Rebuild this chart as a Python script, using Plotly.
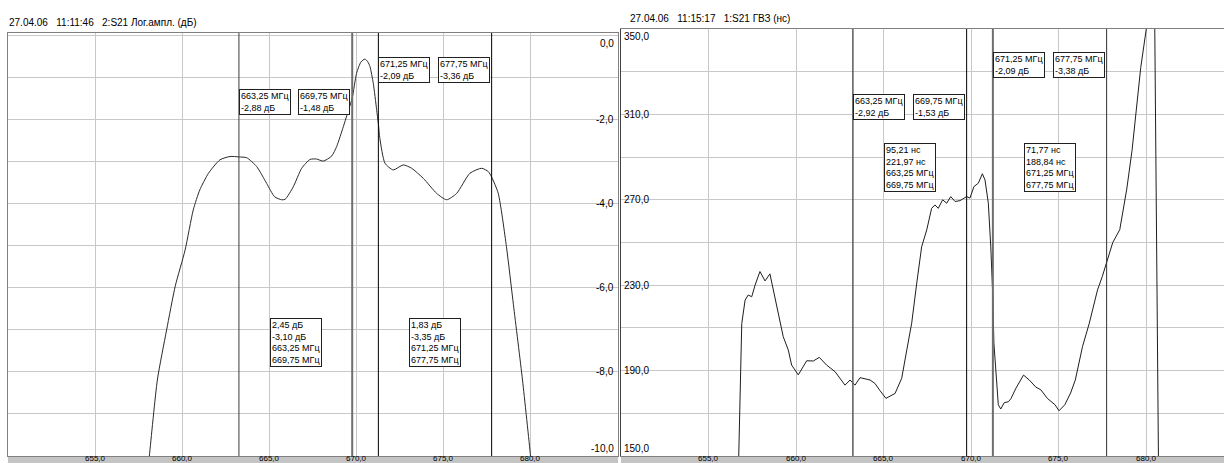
import plotly.graph_objects as go

# ---- S21 log amplitude, dB (channel 2) ----
amp_freq = [657.9, 658.11, 658.57, 659.1, 659.6, 660.16, 660.63, 661.0, 661.5, 662.16,
            662.74, 663.25, 663.7, 664.27, 664.84, 665.3, 665.7, 665.9, 666.37, 666.85,
            667.33, 667.7, 668.09, 668.57, 668.86, 669.24, 669.55, 669.75, 670.0, 670.25,
            670.48, 670.65, 670.77, 670.96, 671.15, 671.25, 671.34, 671.63, 672.1, 672.68,
            673.16, 673.83, 674.6, 675.17, 675.74, 676.5, 677.18, 677.56, 677.75, 678.13,
            678.6, 679.0, 679.52, 679.98, 680.1]
amp_db = [-10.8, -10.0, -8.19, -7.0, -5.95, -5.10, -4.14, -3.67, -3.27, -2.95,
          -2.87, -2.88, -2.90, -3.11, -3.51, -3.83, -3.90, -3.89, -3.59, -3.15,
          -2.94, -2.93, -2.98, -2.86, -2.63, -2.16, -1.75, -1.48, -0.89, -0.62,
          -0.55, -0.62, -0.73, -1.13, -1.75, -2.09, -2.45, -3.03, -3.19, -3.07,
          -3.15, -3.39, -3.75, -3.90, -3.75, -3.27, -3.15, -3.23, -3.36, -3.75,
          -5.02, -6.4, -8.19, -10.0, -10.6]

# ---- S21 group delay, ns (channel 1) ----
gd_freq = [656.7, 656.8, 656.9, 657.09, 657.27, 657.47, 657.66, 657.94, 658.23, 658.51,
           658.8, 658.99, 659.27, 659.56, 659.75, 660.13, 660.33, 660.61, 660.99, 661.33,
           661.75, 662.23, 662.8, 663.09, 663.37, 663.66, 664.23, 664.51, 664.8, 665.14,
           665.66, 666.04, 666.33, 666.61, 666.9, 667.18, 667.47, 667.75, 667.94, 668.13,
           668.38, 668.61, 668.84, 669.09, 669.37, 669.75, 669.94, 670.17, 670.42, 670.65,
           670.8, 670.99, 671.13, 671.24, 671.31, 671.47, 671.56, 671.7, 671.9, 672.14,
           672.29, 672.57, 673.0, 673.33, 673.7, 673.99, 674.36, 674.8, 675.03, 675.36,
           675.69, 675.96, 676.37, 676.76, 677.04, 677.23, 677.5, 677.75, 678.1, 678.5,
           678.9, 679.2, 679.5, 679.7, 680.05, 680.3, 680.5, 680.55, 680.65, 680.72]
gd_ns = [140, 177, 212, 223, 225.4, 224.6, 230, 236.4, 232, 235.3,
         224.6, 216.8, 205.9, 199.6, 192.6, 188, 191, 194.6, 194.5, 196.2,
         192.6, 189.5, 183.2, 185.6, 183.2, 186.7, 185.6, 184, 180.6, 177,
         179.3, 186.4, 199.6, 212.2, 231, 248, 255.9, 266, 267.6, 266,
         270, 268.4, 271.5, 269.2, 269.6, 271.5, 270.8, 276.2, 277.8, 282.2,
         279.3, 268.4, 248, 226.2, 202.8, 185.6, 174, 172, 175, 175.4,
         177, 181.8, 187.9, 185.6, 182.3, 181, 177, 174, 171.2, 174,
         179.5, 185.6, 201.2, 212.2, 221.6, 227.8, 234, 241, 250, 256,
         275, 293, 317, 332, 352, 365, 352, 300, 200, 140]

# ---- markers ----
marker_freq = [663.25, 669.75, 671.25, 677.75]
amp_marker_db = ["-2,88", "-1,48", "-2,09", "-3,36"]
gd_marker_db = ["-2,92", "-1,53", "-2,09", "-3,38"]
amp_stats = [["2,45 дБ", "-3,10 дБ"], ["1,83 дБ", "-3,35 дБ"]]
gd_stats = [["95,21 нс", "221,97 нс"], ["71,77 нс", "188,84 нс"]]

x_ticks = [655, 660, 665, 670, 675, 680]
amp_labels = [0, -2, -4, -6, -8, -10]
gd_labels = [350, 310, 270, 230, 190, 150]

amp_title = "27.04.06\u00a0\u00a0\u00a011:11:46\u00a0\u00a0\u00a02:S21 Лог.ампл. (дБ)"
gd_title = "27.04.06\u00a0\u00a0\u00a011:15:17\u00a0\u00a0\u00a01:S21 ГВЗ (нс)"

W, H = 1224, 463
FONT = "Liberation Sans"


def fx(px):
    return px / W


def fy(py):
    return 1 - py / H


def fmt(v):
    return f"{v:.1f}".replace(".", ",")


def mhz(f):
    return f"{f:.2f}".replace(".", ",") + " МГц"


fig = go.Figure()
fig.add_trace(go.Scatter(x=amp_freq, y=amp_db, xaxis="x", yaxis="y", mode="lines",
                         line=dict(color="#2a2a2a", width=1, shape="spline", smoothing=0.6),
                         hoverinfo="skip"))
fig.add_trace(go.Scatter(x=gd_freq, y=gd_ns, xaxis="x2", yaxis="y2", mode="lines",
                         line=dict(color="#1e1e1e", width=1), hoverinfo="skip"))

grid = "#c8c8c8"
frame = "#808080"
common_x = dict(tickvals=x_ticks, showticklabels=False, showgrid=True,
                gridcolor=grid, gridwidth=1, zeroline=False, ticks="", showline=True,
                linecolor=frame, linewidth=1, automargin=False, fixedrange=True)
common_y = dict(showticklabels=False, showgrid=True, gridcolor=grid, zeroline=False,
                showline=True, ticks="", automargin=False, fixedrange=True)

fig.update_layout(
    width=W, height=H, margin=dict(l=0, r=0, t=0, b=0, autoexpand=False),
    paper_bgcolor="white", plot_bgcolor="white", showlegend=False,
    xaxis=dict(domain=[fx(8), fx(618)], range=[650, 685], anchor="y", mirror=True, **common_x),
    yaxis=dict(domain=[fy(456), fy(33)], range=[-10, 0.07], anchor="x", tick0=0, dtick=1,
               linecolor=frame, mirror=True, **common_y),
    xaxis2=dict(domain=[fx(621), 1], range=[650, 650 + 603 / 17.5], anchor="y2", mirror=True,
                **common_x),
    yaxis2=dict(domain=[fy(456), fy(29)], range=[150, 350], anchor="x2", tick0=150, dtick=20,
                linecolor="#404040", **common_y),
)

shapes = []
# grey strip under each panel holding the frequency scale
for x0, x1 in [(8, 618), (621, W)]:
    shapes.append(dict(type="rect", xref="paper", yref="paper", x0=fx(x0), x1=fx(x1),
                       y0=0, y1=fy(456), fillcolor="#c4c4c4", line=dict(width=0), layer="below"))

amp_marker_style = [("#3c3c3c", 1), ("#6e6e6e", 2), ("#000000", 1), ("#000000", 1)]
gd_marker_style = [("#5a5a5a", 1.5), ("#000000", 1), ("#6e6e6e", 2), ("#303030", 1)]
for f, (c, w) in zip(marker_freq, amp_marker_style):
    shapes.append(dict(type="line", xref="x", yref="y domain", x0=f, x1=f, y0=0, y1=1,
                       line=dict(color=c, width=w)))
for f, (c, w) in zip(marker_freq, gd_marker_style):
    shapes.append(dict(type="line", xref="x2", yref="y2 domain", x0=f, x1=f, y0=0, y1=1,
                       line=dict(color=c, width=w)))
fig.update_layout(shapes=shapes)

ann = []
box = dict(bgcolor="white", bordercolor="#202020", borderwidth=1, borderpad=1,
           align="left", showarrow=False, font=dict(family=FONT, size=9, color="#000"))

# titles
ann.append(dict(text=amp_title, xref="paper", yref="paper", x=fx(7), y=fy(23), xanchor="left",
                yanchor="middle", showarrow=False, font=dict(family=FONT, size=10, color="#000")))
ann.append(dict(text=gd_title, xref="paper", yref="paper", x=fx(628), y=fy(18), xanchor="left",
                yanchor="middle", showarrow=False, font=dict(family=FONT, size=10, color="#000")))

# frequency scale in the grey strip
for xr in ["x", "x2"]:
    for t in x_ticks:
        ann.append(dict(text=fmt(t), xref=xr, yref="paper", x=t, y=0, xanchor="center",
                        yanchor="bottom", borderpad=0, yshift=-1, showarrow=False,
                        font=dict(family=FONT, size=8, color="#000")))

# value scales drawn inside the panels
for v in amp_labels:
    anc = "top" if v == amp_labels[0] else ("bottom" if v == amp_labels[-1] else "middle")
    ann.append(dict(text=fmt(v), xref="x domain", yref="y", x=1, y=v, xanchor="right",
                    yanchor=anc, xshift=-2, showarrow=False,
                    font=dict(family=FONT, size=10, color="#000")))
for v in gd_labels:
    anc = "top" if v == gd_labels[0] else ("bottom" if v == gd_labels[-1] else "middle")
    ann.append(dict(text=fmt(v), xref="x2 domain", yref="y2", x=0, y=v, xanchor="left",
                    yanchor=anc, xshift=1, showarrow=False,
                    font=dict(family=FONT, size=10, color="#000")))

# marker read-outs
def marker_boxes(xr, vals, low_top, high_top):
    out = []
    tops = [low_top, low_top, high_top, high_top]
    anchors = ["left", "right", "left", "right"]
    shifts = [0, -2, 0, -2]
    for f, v, t, a, s in zip(marker_freq, vals, tops, anchors, shifts):
        out.append(dict(text=mhz(f) + "<br>" + v + " дБ", xref=xr, yref="paper", x=f,
                        y=fy(t), xanchor=a, yanchor="top", xshift=s, **box))
    return out


ann += marker_boxes("x", amp_marker_db, 89, 57)
ann += marker_boxes("x2", gd_marker_db, 94, 52)

# band statistics between marker pairs
for xr, stats, top in [("x", amp_stats, 318), ("x2", gd_stats, 143)]:
    for k, (a, b) in enumerate(stats):
        f0, f1 = marker_freq[2 * k], marker_freq[2 * k + 1]
        txt = "<br>".join([a, b, mhz(f0), mhz(f1)])
        ann.append(dict(text=txt, xref=xr, yref="paper", x=(f0 + f1) / 2, y=fy(top),
                        xanchor="center", yanchor="top", **box))

fig.update_layout(annotations=ann)
fig.write_html("out.html", config={"displayModeBar": False})
